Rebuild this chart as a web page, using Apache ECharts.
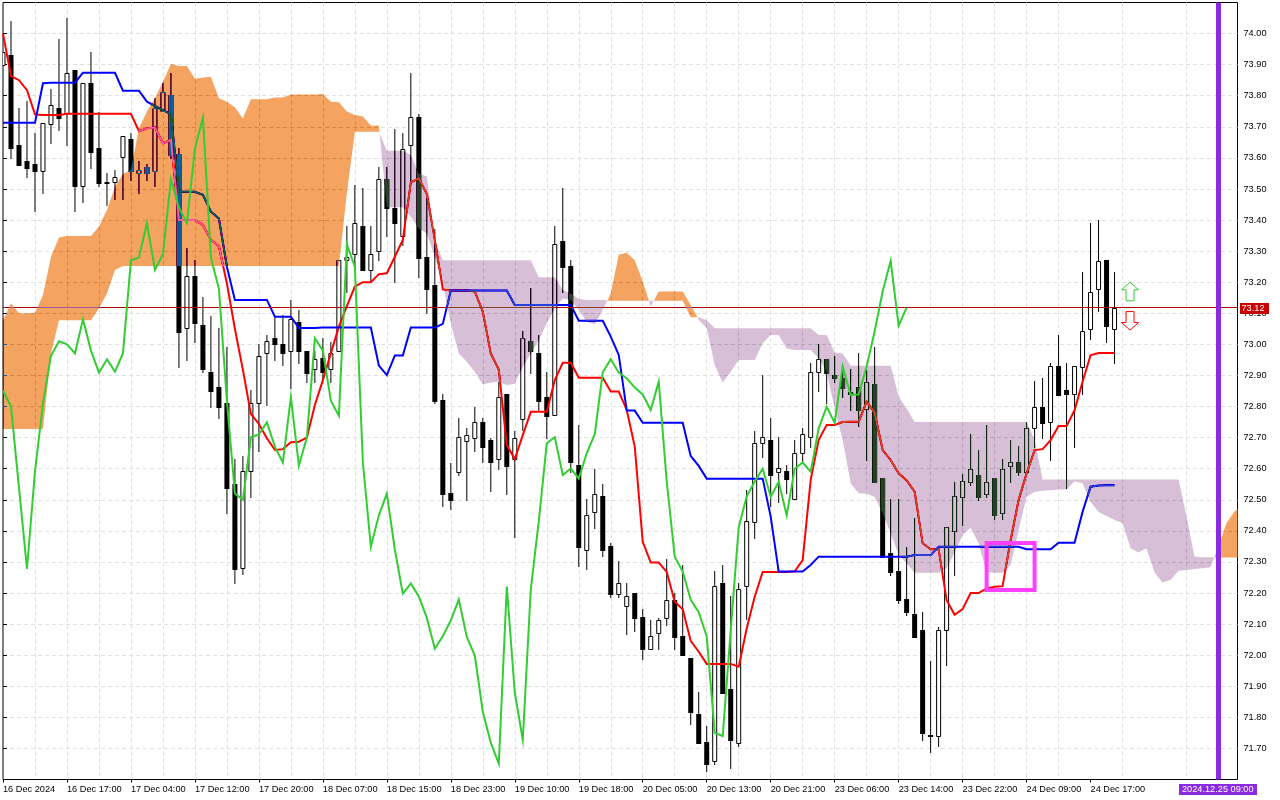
<!DOCTYPE html>
<html><head><meta charset="utf-8"><style>html,body{margin:0;padding:0;background:#fff}#c{width:1280px;height:800px}</style>
<script src="https://cdn.jsdelivr.net/npm/echarts@6/dist/echarts.min.js"></script></head>
<body><div id="c"></div>
<script>
const timeLabels=["16 Dec 2024","16 Dec 17:00","17 Dec 04:00","17 Dec 12:00","17 Dec 20:00","18 Dec 07:00","18 Dec 15:00","18 Dec 23:00","19 Dec 10:00","19 Dec 18:00","20 Dec 05:00","20 Dec 13:00","20 Dec 21:00","23 Dec 06:00","23 Dec 14:00","23 Dec 22:00","24 Dec 09:00","24 Dec 17:00"];
const open=[73.90,73.931,73.641,73.59,73.58,73.559,73.71,73.76,73.743,73.883,
73.51,73.84,73.631,73.522,73.521,73.602,73.66,73.55,73.57,73.559,
73.75,73.802,73.612,73.052,73.219,73.062,72.91,72.863,72.81,72.55,
72.279,72.591,72.81,72.971,73.02,73.0,72.98,73.071,72.98,72.92,
72.955,72.92,72.98,73.27,73.29,73.381,73.24,73.30,73.531,73.44,
73.349,73.64,73.73,73.28,73.191,72.821,72.521,72.59,72.69,72.70,
72.749,72.692,72.63,72.839,72.63,72.761,73.011,72.971,72.83,72.772,
73.332,73.252,72.612,72.34,72.46,72.512,72.35,72.198,72.159,72.199,
72.123,72.021,72.07,72.121,72.179,72.061,71.99,71.81,71.72,71.661,
72.231,71.891,71.718,72.221,72.43,72.682,72.692,72.59,72.593,72.502,
72.65,72.701,72.91,72.952,72.902,72.891,72.848,72.862,72.791,72.872,
72.57,72.33,72.271,72.181,72.133,72.08,71.742,71.741,72.08,72.40,
72.51,72.558,72.581,72.52,72.569,72.459,72.61,72.62,72.59,72.73,
72.799,72.749,72.929,72.852,72.839,72.928,73.05,73.179,73.271,73.05];
const high=[73.94,74.04,73.76,73.782,73.679,73.711,73.822,73.983,74.05,73.883,
73.84,73.941,73.749,73.551,73.561,73.669,73.679,73.59,73.58,73.792,
73.84,73.872,73.631,73.309,73.27,73.151,73.091,73.052,72.993,72.63,
72.641,72.853,73.0,73.03,73.09,73.094,73.143,73.11,72.98,72.98,
73.02,73.009,73.27,73.382,73.513,73.503,73.381,73.57,73.57,73.692,
73.679,73.872,73.74,73.47,73.37,72.839,72.617,72.762,72.73,72.80,
72.762,72.70,72.88,72.839,72.721,73.044,73.18,73.03,72.91,73.381,
73.503,73.272,72.74,72.502,72.6,72.551,72.36,72.302,72.231,72.199,
72.15,72.113,72.121,72.311,72.199,72.29,71.99,71.88,71.772,72.27,
72.29,72.19,72.231,72.532,72.721,72.902,72.762,72.701,72.612,72.692,
72.73,72.939,73.001,72.952,72.963,72.93,72.92,72.971,72.918,72.99,
72.57,72.502,72.502,72.349,72.44,72.14,71.981,72.09,72.414,72.558,
72.582,72.711,72.66,72.74,72.569,72.63,72.692,72.673,72.75,72.881,
72.891,72.939,73.029,72.939,72.929,73.233,73.389,73.4,73.271,73.232];
const low=[73.90,73.601,73.578,73.54,73.43,73.488,73.648,73.69,73.64,73.43,
73.459,73.568,73.51,73.448,73.468,73.468,73.529,73.488,73.529,73.51,
73.75,73.6,72.928,72.95,73.009,72.91,72.80,72.762,72.458,72.231,
72.26,72.51,72.658,72.805,72.95,72.934,72.859,72.939,72.88,72.88,
72.89,72.88,72.98,73.17,73.25,73.24,73.2,73.27,73.349,73.2,
73.32,73.52,73.218,73.1,72.81,72.481,72.469,72.58,72.5,72.658,
72.62,72.529,72.6,72.52,72.379,72.724,72.909,72.79,72.70,72.772,
73.17,72.59,72.288,72.278,72.41,72.32,72.188,72.188,72.068,72.079,
71.988,72.021,72.021,72.097,72.021,71.999,71.778,71.718,71.628,71.651,
71.879,71.638,71.708,72.118,72.378,72.639,72.481,72.494,72.521,72.502,
72.623,72.671,72.851,72.81,72.88,72.83,72.79,72.738,72.628,72.558,
72.317,72.258,72.167,72.13,72.06,71.727,71.689,71.709,71.968,72.258,
72.418,72.547,72.5,72.51,72.439,72.439,72.558,72.579,72.59,72.67,
72.698,72.628,72.837,72.539,72.67,72.839,73.018,73.108,73.008,72.939];
const close=[73.94,73.631,73.578,73.568,73.558,73.711,73.769,73.729,73.872,73.51,
73.84,73.62,73.52,73.52,73.54,73.669,73.558,73.56,73.55,73.76,
73.811,73.61,73.041,73.219,73.07,72.92,72.851,72.80,72.539,72.278,
72.591,72.81,72.963,73.01,73.0,72.971,73.081,72.98,72.909,72.952,
72.912,72.971,73.27,73.28,73.39,73.24,73.29,73.531,73.44,73.39,
73.63,73.73,73.279,73.179,72.819,72.52,72.50,72.701,72.71,72.749,
72.671,72.62,72.83,72.61,72.70,73.02,72.98,72.819,72.77,73.322,
73.25,72.62,72.349,72.45,72.52,72.34,72.198,72.231,72.189,72.12,
72.021,72.061,72.112,72.179,72.059,71.999,71.818,71.718,71.651,72.221,
71.879,71.728,72.212,72.431,72.682,72.701,72.58,72.601,72.568,72.65,
72.711,72.91,72.952,72.909,72.891,72.861,72.839,72.789,72.88,72.558,
72.317,72.269,72.178,72.138,72.06,71.75,71.74,72.08,72.411,72.511,
72.559,72.6,72.51,72.558,72.45,72.6,72.62,72.59,72.73,72.799,
72.748,72.929,72.837,72.839,72.929,73.042,73.17,73.269,73.06,73.118];
const chikou=[72.851,72.80,72.539,72.278,
72.591,72.81,72.963,73.01,73.0,72.971,73.081,72.98,72.909,72.952,
72.912,72.971,73.27,73.28,73.39,73.24,73.29,73.531,73.44,73.39,
73.63,73.73,73.279,73.179,72.819,72.52,72.50,72.701,72.71,72.749,
72.671,72.62,72.83,72.61,72.70,73.02,72.98,72.819,72.77,73.322,
73.25,72.62,72.349,72.45,72.52,72.34,72.198,72.231,72.189,72.12,
72.021,72.061,72.112,72.179,72.059,71.999,71.818,71.718,71.651,72.221,
71.879,71.728,72.212,72.431,72.682,72.701,72.58,72.601,72.568,72.65,
72.711,72.91,72.952,72.909,72.891,72.861,72.839,72.789,72.88,72.558,
72.317,72.269,72.178,72.138,72.06,71.75,71.74,72.08,72.411,72.511,
72.559,72.6,72.51,72.558,72.45,72.6,72.62,72.59,72.73,72.799,
72.748,72.929,72.837,72.839,72.929,73.042,73.17,73.269,73.06,73.118];
const tenkan=[74.0,73.863,73.85,73.818,73.74,73.738,73.738,73.738,73.742,73.742,
73.742,73.742,73.742,73.742,73.742,73.742,73.742,73.686,73.695,73.698,
73.647,73.658,73.4,73.4,73.4,73.384,73.336,73.316,73.196,73.05,
72.918,72.776,72.744,72.698,72.66,72.663,72.685,72.687,72.7,72.805,
72.885,72.971,73.057,73.123,73.186,73.2,73.2,73.226,73.229,73.282,
73.336,73.521,73.534,73.484,73.336,73.177,73.173,73.173,73.173,73.17,
73.105,72.971,72.918,72.676,72.631,72.708,72.783,72.783,72.783,72.885,
72.941,72.941,72.893,72.893,72.893,72.893,72.848,72.848,72.789,72.671,
72.365,72.298,72.298,72.268,72.172,72.148,72.046,72.011,71.972,71.972,
71.972,71.972,71.963,72.086,72.188,72.268,72.268,72.268,72.268,72.27,
72.306,72.564,72.692,72.741,72.741,72.75,72.751,72.751,72.816,72.78,
72.66,72.628,72.585,72.562,72.526,72.36,72.341,72.341,72.177,72.13,
72.148,72.2,72.2,72.215,72.22,72.222,72.37,72.499,72.585,72.66,
72.663,72.692,72.737,72.737,72.788,72.88,72.965,72.972,72.972,72.972];
const kijun=[73.713,73.713,73.713,73.713,73.713,73.84,73.842,73.842,73.842,73.842,
73.874,73.874,73.874,73.874,73.874,73.816,73.816,73.816,73.781,73.767,
73.754,73.741,73.491,73.491,73.491,73.481,73.427,73.405,73.25,73.143,
73.143,73.143,73.143,73.143,73.089,73.089,73.089,73.053,73.053,73.053,
73.054,73.054,73.054,73.054,73.054,73.054,73.054,72.932,72.901,72.964,
72.964,73.054,73.054,73.054,73.054,73.066,73.173,73.173,73.173,73.173,
73.173,73.173,73.173,73.173,73.127,73.127,73.127,73.127,73.127,73.127,
73.127,73.127,73.076,73.076,73.076,73.076,73.025,72.966,72.787,72.787,
72.748,72.748,72.748,72.748,72.748,72.748,72.641,72.609,72.568,72.568,
72.568,72.568,72.568,72.568,72.568,72.568,72.446,72.269,72.269,72.269,
72.269,72.29,72.317,72.317,72.317,72.317,72.317,72.317,72.317,72.317,
72.317,72.317,72.317,72.317,72.322,72.322,72.322,72.349,72.349,72.349,
72.349,72.349,72.349,72.349,72.349,72.349,72.349,72.349,72.341,72.341,
72.341,72.341,72.362,72.362,72.362,72.461,72.542,72.546,72.547,72.547];
const spanA=[73.078,73.132,73.100,73.100,73.102,73.159,73.282,73.344,73.349,73.349,
73.349,73.349,73.379,73.432,73.507,73.548,73.561,73.695,73.749,73.792,
73.845,73.902,73.896,73.896,73.855,73.859,73.861,73.792,73.781,73.763,
73.727,73.789,73.789,73.789,73.794,73.794,73.804,73.804,73.804,73.804,
73.806,73.781,73.779,73.749,73.738,73.733,73.704,73.704,73.441,73.441,
73.441,73.411,73.373,73.357,73.282,73.196,73.068,72.971,72.944,72.912,
72.871,72.877,72.880,72.869,72.873,72.928,72.971,73.014,73.068,73.116,
73.148,73.143,73.111,73.073,73.065,73.111,73.164,73.288,73.295,73.271,
73.202,73.122,73.170,73.170,73.170,73.170,73.127,73.079,73.052,72.934,
72.877,72.912,72.950,72.950,72.950,73.004,73.030,73.030,72.987,72.982,
72.982,72.982,72.955,72.912,72.794,72.692,72.553,72.521,72.519,72.510,
72.457,72.392,72.323,72.296,72.265,72.265,72.265,72.265,72.28,72.33,
72.387,72.41,72.36,72.268,72.265,72.265,72.290,72.402,72.510,72.526,
72.529,72.531,72.533,72.533,72.56,72.553,72.494,72.461,72.448,72.435,
72.425,72.344,72.33,72.344,72.266,72.234,72.242,72.272,72.274,72.277,
72.28,72.283,72.35,72.425,72.462,72.484];
const spanB=[72.728,72.728,72.728,72.728,72.728,72.728,72.971,73.078,73.078,73.078,
73.078,73.078,73.116,73.164,73.239,73.252,73.252,73.252,73.252,73.252,
73.252,73.252,73.252,73.252,73.252,73.252,73.252,73.252,73.252,73.252,
73.252,73.252,73.252,73.252,73.252,73.252,73.252,73.252,73.252,73.252,
73.252,73.252,73.252,73.486,73.684,73.684,73.684,73.684,73.623,73.623,
73.623,73.609,73.550,73.540,73.336,73.271,73.271,73.271,73.271,73.271,
73.271,73.271,73.271,73.271,73.271,73.271,73.271,73.216,73.216,73.216,
73.175,73.164,73.146,73.143,73.143,73.143,73.14,73.14,73.14,73.14,
73.14,73.14,73.14,73.14,73.14,73.14,73.087,73.087,73.078,73.052,
73.052,73.052,73.052,73.052,73.052,73.052,73.052,73.052,73.052,73.052,
73.052,73.052,73.030,73.030,72.974,72.971,72.931,72.931,72.931,72.931,
72.931,72.931,72.832,72.794,72.750,72.750,72.750,72.750,72.750,72.750,
72.750,72.750,72.750,72.750,72.750,72.750,72.750,72.750,72.750,72.692,
72.565,72.565,72.565,72.565,72.565,72.565,72.565,72.565,72.565,72.565,
72.565,72.565,72.565,72.565,72.565,72.565,72.565,72.565,72.446,72.317,
72.315,72.315,72.314,72.314,72.314,72.314];
const lastPrice=73.1186, lastPriceLabel="73.12";
const endTimeIndex=152, endTimeLabel="2024.12.25 09:00";
const boxTimes=[123,129], boxPrices=[72.361,72.21];
const arrowTime=141, arrowUpPrice=73.2, arrowDownPrice=73.046;
const xMax=154.375, yMin=71.6, yMax=74.1;

const FONT='"Liberation Sans", sans-serif';
const FS=9.2;
const gridStyle={color:'#e0e0e0',width:1,type:[4,3]};

const regions=[];
(function(){
  let cur=null;
  for(let i=0;i<spanA.length;i++){
    const up=spanA[i]>=spanB[i];
    if(!cur||cur.up!==up){
      if(cur){
        const d0=spanA[i-1]-spanB[i-1], d1=spanA[i]-spanB[i];
        const t=d0/(d0-d1), x=i-1+t, y=spanA[i-1]+(spanA[i]-spanA[i-1])*t;
        cur.a.push([x,y]);cur.b.push([x,y]);
        cur={up,a:[[x,y]],b:[[x,y]]};
      } else cur={up,a:[],b:[]};
      regions.push(cur);
    }
    cur.a.push([i,spanA[i]]);cur.b.push([i,spanB[i]]);
  }
})();
const lineData=a=>a.map((v,i)=>[i,v]);
const lineSeries=(name,arr,color,z)=>({name,type:'line',data:lineData(arr),symbol:'none',silent:true,z,animation:false,
  lineStyle:{color,width:2,join:'miter'}});

const chart=echarts.init(document.getElementById('c'),null,{renderer:'canvas',width:1280,height:800});
const tickVals=timeLabels.map((_,i)=>i*8);
chart.setOption({
  animation:false,backgroundColor:'#ffffff',
  grid:{left:2.5,top:2.5,width:1235,height:777,show:true,borderColor:'#000',borderWidth:1,backgroundColor:'transparent',containLabel:false},
  xAxis:{type:'value',min:0,max:xMax,interval:8,
    axisLine:{show:false},
    axisTick:{show:true,length:3,customValues:tickVals,lineStyle:{color:'#000'}},
    axisLabel:{show:true,customValues:tickVals,margin:5,align:'left',color:'#000',fontFamily:FONT,fontSize:FS,
      formatter:v=>timeLabels[Math.round(v/8)]||''},
    splitLine:{show:true,showMinLine:false,showMaxLine:false,lineStyle:gridStyle},
    minorTick:{show:false,splitNumber:2},
    minorSplitLine:{show:true,lineStyle:gridStyle}},
  yAxis:{type:'value',position:'right',min:yMin,max:yMax,interval:0.1,
    axisLine:{show:false},
    axisTick:{show:true,length:4,lineStyle:{color:'#000'}},
    axisLabel:{show:true,showMinLabel:false,showMaxLabel:false,margin:6,color:'#000',fontFamily:FONT,fontSize:FS,
      formatter:v=>v.toFixed(2)},
    splitLine:{show:true,showMinLine:false,showMaxLine:false,lineStyle:gridStyle}},
  series:[
    {name:'candles',type:'custom',clip:true,z:2,silent:true,animation:false,
     data:open.map((o,i)=>[i,o,close[i],low[i],high[i]]),
     encode:{x:0,y:[1,2,3,4]},
     renderItem(p,api){
       const i=api.value(0),o=api.value(1),c=api.value(2),l=api.value(3),h=api.value(4);
       const x=api.coord([i,o])[0];
       const yo=Math.round(api.coord([i,o])[1]),yc=Math.round(api.coord([i,c])[1]);
       const yl=Math.round(api.coord([i,l])[1]),yh=Math.round(api.coord([i,h])[1]);
       const top=Math.min(yo,yc),bot=Math.max(yo,yc),bull=c>=o;
       const wick={type:'line',shape:{x1:x,y1:yh,x2:x,y2:yl+1},style:{stroke:'#000',lineWidth:1}};
       const body=bull?{type:'rect',shape:{x:x-2,y:top+.5,width:4,height:Math.max(bot-top,1)},style:{fill:'#fff',stroke:'#000',lineWidth:1}}
                      :{type:'rect',shape:{x:x-2.5,y:top,width:5,height:Math.max(bot-top,1)+1},style:{fill:'#000'}};
       return {type:'group',children:[wick,body]};
     }},
    lineSeries('tenkan',tenkan,'#ff0000',3),
    lineSeries('kijun',kijun,'#0000ff',3),
    {name:'price',type:'line',data:[[0,lastPrice],[xMax,lastPrice]],symbol:'none',silent:true,z:3,animation:false,
     lineStyle:{color:'#b00000',width:1}},
    {name:'cloud',type:'custom',clip:true,z:4,silent:true,animation:false,
     data:regions.map((r,i)=>[i]),
     encode:{x:0},
     renderItem(p,api){
       const r=regions[api.value(0)];
       const pts=r.a.concat(r.b.slice().reverse()).map(q=>api.coord(q));
       return {type:'polygon',name:'cloudShape',shape:{points:pts},style:{fill:r.up?'#0B5B9F':'#274027',blend:'difference'}};
     }},
    lineSeries('chikou',chikou,'#32cd32',5),
    {name:'endTime',type:'line',data:[[endTimeIndex,yMin],[endTimeIndex,yMax]],symbol:'none',silent:true,z:6,animation:false,
     lineStyle:{color:'#8a2be2',width:5,cap:'butt'}},
    {name:'box',type:'custom',clip:false,z:6,silent:true,animation:false,
     data:[[boxTimes[0],boxPrices[0],boxTimes[1],boxPrices[1]]],encode:{x:[0,2],y:[1,3]},
     renderItem(p,api){
       const a=api.coord([api.value(0),api.value(1)]),b=api.coord([api.value(2),api.value(3)]);
       return {type:'rect',shape:{x:a[0],y:a[1],width:b[0]-a[0],height:b[1]-a[1]},style:{fill:'none',stroke:'#ff40ff',lineWidth:4}};
     }},
    {name:'arrows',type:'custom',clip:false,z:6,silent:true,animation:false,
     data:[[arrowTime,arrowUpPrice,1],[arrowTime,arrowDownPrice,-1]],encode:{x:0,y:1},
     renderItem(p,api){
       const c=api.coord([api.value(0),api.value(1)]),d=api.value(2);
       const s=[[0,0],[8.5,7.5],[4,7.5],[4,18.5],[-4,18.5],[-4,7.5],[-8.5,7.5]];
       return {type:'polygon',shape:{points:s.map(q=>[c[0]-.5+q[0],c[1]+d*q[1]])},
         style:{fill:'#fff',stroke:d>0?'#32cd32':'#ff0000',lineWidth:1}};
     }},
    {name:'tags',type:'custom',clip:false,z:7,silent:true,animation:false,
     data:[[0]],encode:{x:0},
     renderItem(p,api){
       const yp=api.coord([0,lastPrice])[1], xe=api.coord([endTimeIndex,yMin]);
       const xr=api.coord([xMax,yMin])[0];
       return {type:'group',children:[
         {type:'rect',shape:{x:xr+2.5,y:Math.round(yp)-5,width:29,height:11},style:{fill:'#c80000'}},
         {type:'text',style:{x:xr+4,y:Math.round(yp)+.5,text:lastPriceLabel,fill:'#fff',font:FS+'px '+FONT,align:'left',verticalAlign:'middle'}},
         {type:'rect',shape:{x:xe[0]-39.5,y:xe[1]+4.5,width:78,height:11},style:{fill:'#8a2be2'}},
         {type:'text',style:{x:xe[0]-36.5,y:xe[1]+10,text:endTimeLabel,fill:'#fff',font:FS+'px '+FONT,align:'left',verticalAlign:'middle'}}
       ]};
     }}
  ]
});
// Cloud colours combine with what lies beneath it, so candles and lines stay visible through it
const zr=chart.getZr();
zr.storage.traverse(el=>{
  if(el.name==='cloudShape'||(el.type==='polygon'&&el.style&&(el.style.fill==='#0B5B9F'||el.style.fill==='#274027'))){
    el.setStyle('blend','difference');
  }
});
zr.refreshImmediately();
</script></body></html>
